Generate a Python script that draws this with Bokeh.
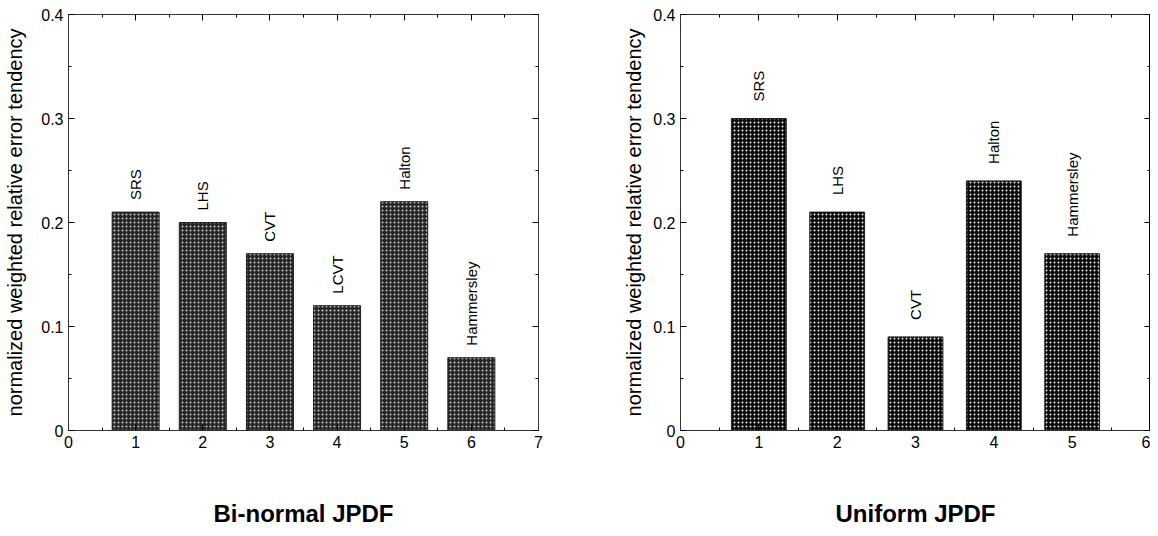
import numpy as np
from bokeh.plotting import figure
from bokeh.models import LinearAxis, ColumnDataSource, Range1d, FixedTicker, CustomJSTickFormatter
from bokeh.layouts import row
from bokeh.core.properties import value
from bokeh.embed import file_html
from bokeh.resources import INLINE

# ---- data ----
left_x = [1, 2, 3, 4, 5, 6]
left_values = [0.21, 0.20, 0.17, 0.12, 0.22, 0.07]
left_labels = ["SRS", "LHS", "CVT", "LCVT", "Halton", "Hammersley"]

right_x = [1, 2, 3, 4, 5]
right_values = [0.30, 0.21, 0.09, 0.24, 0.17]
right_labels = ["SRS", "LHS", "CVT", "Halton", "Hammersley"]

y_ticks = [0, 0.1, 0.2, 0.3, 0.4]
y_label = "normalized weighted relative error tendency"
titles = ["Bi-normal JPDF", "Uniform JPDF"]

FONT = "Liberation Sans"


def make(xs, vals, labels, xmax, title, fill, hatch_alpha, label_off,
         border_left, border_right, ylab_standoff):
    p = figure(output_backend="svg", toolbar_location=None,
               frame_width=470, frame_height=416,
               min_border_left=border_left, min_border_top=14, min_border_right=border_right,
               min_border_bottom=0,
               x_range=Range1d(0, xmax), y_range=Range1d(0, 0.4),
               background_fill_color="white", border_fill_color="white")
    p.grid.visible = False
    p.outline_line_color = "black"
    p.outline_line_width = 1

    src = ColumnDataSource(dict(x=xs, top=vals, label=labels))
    p.vbar(x="x", top="top", bottom=0, width=0.7, source=src,
           fill_color=fill, line_color="#222222", line_width=1,
           hatch_pattern="dot", hatch_color="white", hatch_scale=4, hatch_weight=1,
           hatch_alpha=hatch_alpha)
    p.text(x="x", y="top", text="label", source=src, angle=np.pi / 2,
           text_align="left", text_baseline="middle", y_offset=-label_off,
           text_font=value(FONT), text_font_size="15px", text_color="black")

    xt = FixedTicker(ticks=list(range(0, xmax + 1)),
                     minor_ticks=list(np.arange(0.5, xmax, 1.0)))
    yt = FixedTicker(ticks=y_ticks, minor_ticks=list(np.arange(0.05, 0.4, 0.1)))
    fmt = CustomJSTickFormatter(code='return tick == 0 ? "0" : tick.toFixed(1);')
    blank = CustomJSTickFormatter(code='return "";')

    xb = p.below[0]
    yl = p.left[0]
    xb.ticker = xt
    yl.ticker = yt
    yl.formatter = fmt

    xa = LinearAxis(ticker=xt, formatter=blank)
    yr = LinearAxis(ticker=yt, formatter=blank)
    p.add_layout(xa, "above")
    p.add_layout(yr, "right")

    for ax in (xb, yl, xa, yr):
        ax.major_tick_in = 6
        ax.major_tick_out = 0
        ax.minor_tick_in = 3
        ax.minor_tick_out = 0
        ax.axis_line_color = "#333333"
        ax.major_tick_line_color = "black"
        ax.minor_tick_line_color = "black"
        ax.major_label_text_font = FONT
        ax.major_label_text_font_size = "16px"
        ax.major_label_text_color = "black"
        ax.major_label_standoff = 5

    for ax in (xa, yr):
        ax.major_label_standoff = 0

    yl.axis_label = y_label
    yl.axis_label_text_font = FONT
    yl.axis_label_text_font_size = "20px"
    yl.axis_label_text_font_style = "normal"
    yl.axis_label_text_color = "black"
    yl.axis_label_standoff = ylab_standoff

    xb.axis_label = title
    xb.axis_label_text_font = FONT
    xb.axis_label_text_font_size = "24px"
    xb.axis_label_text_font_style = "bold"
    xb.axis_label_text_color = "black"
    xb.axis_label_standoff = 49
    return p


p1 = make(left_x, left_values, left_labels, 7, titles[0], "#262626", 0.75, 12, 68, 82, 12)
p2 = make(right_x, right_values, right_labels, 6, titles[1], "#050505", 0.95, 17, 60, 0, 5)

layout = row(p1, p2)
open("out.html", "w").write(file_html(layout, INLINE))
